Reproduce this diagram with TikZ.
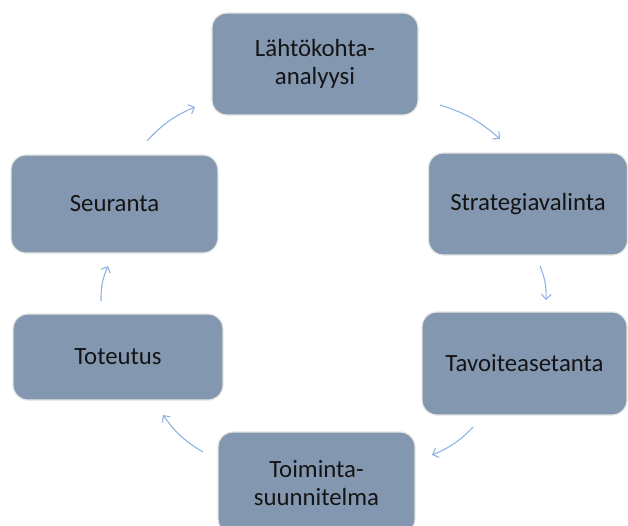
\documentclass[tikz,border=0pt]{standalone}
\usepackage{fontspec}
\setmainfont{Carlito}
\usetikzlibrary{arrows.meta}
\definecolor{boxfill}{HTML}{8497B0}
\definecolor{boxline}{HTML}{E4E4E4}
\definecolor{arrowblue}{HTML}{8EB4E3}
\definecolor{txt}{HTML}{141414}
\tikzset{
  stagebox/.style={draw=boxline, line width=1.2pt, fill=boxfill, rounded corners=15pt,
    text=txt, align=center, inner sep=0pt,
    font=\fontsize{24.8}{27.5}\selectfont},
  cyclearrow/.style={draw=arrowblue, line width=1.1pt,
    -{Straight Barb[length=5pt,width=10pt]}, bend left=12}
}
\begin{document}
\begin{tikzpicture}[x=1pt,y=1pt]
\useasboundingbox (0,0) rectangle (628,-525);
\begin{scope}
\clip (0,0) rectangle (628,-525);
\node[stagebox, minimum width=206pt, minimum height=102pt] (lahto) at (315,-64) {Lähtökohta-\\analyysi};
\node[stagebox, minimum width=199pt, minimum height=102pt] (strat) at (528,-204) {Strategiavalinta};
\node[stagebox, minimum width=205pt, minimum height=103pt] (tavo) at (524.5,-363.5) {Tavoiteasetanta};
\node[stagebox, minimum width=197pt, minimum height=102pt] (toim) at (316.5,-483) {Toiminta-\\suunnitelma};
\node[stagebox, minimum width=210pt, minimum height=86pt] (tote) at (118,-357) {Toteutus};
\node[stagebox, minimum width=207pt, minimum height=98pt] (seur) at (114.5,-204) {Seuranta};
\end{scope}
\coordinate (a1s) at (440,-105);
\coordinate (a1e) at (500,-139);
\coordinate (a2s) at (540,-266);
\coordinate (a2e) at (546,-300);
\coordinate (a3s) at (473,-427);
\coordinate (a3e) at (432,-455);
\coordinate (a4s) at (203,-452);
\coordinate (a4e) at (163,-415);
\coordinate (a5s) at (101,-301);
\coordinate (a5e) at (108,-266);
\coordinate (a6s) at (147,-141);
\coordinate (a6e) at (195,-107);
\draw[cyclearrow] (a1s) to (a1e);
\draw[cyclearrow] (a2s) to (a2e);
\draw[cyclearrow] (a3s) to (a3e);
\draw[cyclearrow] (a4s) to (a4e);
\draw[cyclearrow] (a5s) to (a5e);
\draw[cyclearrow] (a6s) to (a6e);
\end{tikzpicture}
\end{document}
